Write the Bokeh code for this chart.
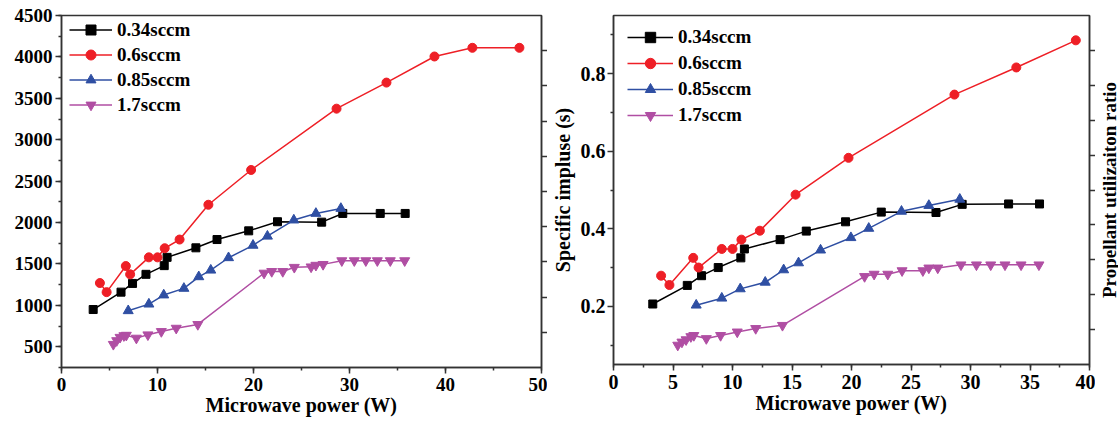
import math
from bokeh.plotting import figure
from bokeh.models import (Range1d, LinearAxis, FixedTicker, SingleIntervalTicker,
                          Legend, LegendItem, CustomJSTickFormatter)
from bokeh.layouts import row
from bokeh.embed import file_html
from bokeh.resources import INLINE

# ---------------- data ----------------
black_power = [3.3, 6.2, 7.4, 8.8, 10.7, 11.0, 14.0, 16.2, 19.5, 22.5, 27.1, 29.3, 33.2, 35.8]
black_isp = [950, 1160, 1265, 1375, 1480, 1580, 1695, 1795, 1900, 2010, 2005, 2110, 2110, 2110]
black_ratio = [0.206, 0.254, 0.279, 0.300, 0.325, 0.348, 0.372, 0.394, 0.418, 0.443, 0.442, 0.463, 0.464, 0.464]

red_power_isp = [4.0, 4.7, 6.7, 7.15, 9.1, 10.0, 10.75, 12.3, 15.3, 19.75, 28.65, 33.85, 38.85, 42.8, 47.7]
red_isp = [1270, 1160, 1475, 1375, 1580, 1580, 1690, 1795, 2215, 2635, 3375, 3690, 4005, 4110, 4110]
red_power_ratio = [4.0, 4.7, 6.7, 7.15, 9.1, 10.0, 10.75, 12.3, 15.3, 19.75, 28.65, 33.85, 38.85]
red_ratio = [0.279, 0.255, 0.325, 0.300, 0.348, 0.348, 0.372, 0.395, 0.488, 0.583, 0.746, 0.816, 0.886]

blue_power = [6.95, 9.1, 10.65, 12.75, 14.3, 15.55, 17.4, 19.95, 21.45, 24.2, 26.5, 29.1]
blue_isp = [935, 1015, 1125, 1205, 1345, 1425, 1575, 1725, 1835, 2030, 2110, 2170]
blue_ratio = [0.203, 0.221, 0.245, 0.262, 0.294, 0.312, 0.345, 0.377, 0.401, 0.445, 0.460, 0.476]

pink_power = [5.4, 5.75, 6.1, 6.5, 6.75, 7.8, 9.0, 10.4, 11.95, 14.2, 21.1, 21.9, 23.05,
              24.25, 26.0, 26.5, 27.25, 29.2, 30.5, 31.7, 32.9, 34.25, 35.75]
pink_isp = [530, 575, 615, 635, 640, 605, 645, 685, 725, 770, 1390, 1410, 1410,
            1460, 1465, 1485, 1495, 1540, 1540, 1540, 1540, 1540, 1540]
pink_ratio = [0.100, 0.108, 0.114, 0.122, 0.125, 0.117, 0.125, 0.134, 0.143, 0.151, 0.277, 0.283, 0.283,
              0.292, 0.292, 0.299, 0.299, 0.307, 0.307, 0.307, 0.307, 0.307, 0.307]

labels = ["0.34sccm", "0.6sccm", "0.85sccm", "1.7sccm"]
x_label = "Microwave power (W)"
isp_label = "Specific impluse (s)"
ratio_label = "Propellant utilizaiton ratio"
ratio_ticks = [0.2, 0.4, 0.6, 0.8]
ratio_minor = [0.1, 0.3, 0.5, 0.7, 0.9]

FONT = "Liberation Serif"
AX = "#333333"
COLORS = ["#000000", "#ee1f26", "#2f4fa3", "#b04ea3"]
MARKERS = ["square", "circle", "triangle", "inverted_triangle"]
SIZES = [8, 9, 10, 10]


def style_axis(ax, size):
    ax.axis_line_color = AX
    ax.axis_line_width = 1.5
    ax.major_tick_line_color = AX
    ax.major_tick_line_width = 1.5
    ax.minor_tick_line_color = AX
    ax.minor_tick_line_width = 1.5
    ax.major_tick_in = 0
    ax.major_tick_out = 6
    ax.minor_tick_in = 0
    ax.minor_tick_out = 3
    ax.major_label_text_font = FONT
    ax.major_label_text_font_style = "bold"
    ax.major_label_text_font_size = size
    ax.major_label_text_color = "black"
    ax.major_label_standoff = 3
    ax.axis_label_text_font = FONT
    ax.axis_label_text_font_style = "bold"
    ax.axis_label_text_font_size = "20px"
    ax.axis_label_text_color = "black"


def make_panel(fw, fh, xr, yr, xint, borders, series, label_size, legend_loc, row_h, glyph_w):
    p = figure(frame_width=fw, frame_height=fh, x_range=Range1d(*xr), y_range=Range1d(*yr),
               output_backend="svg", toolbar_location=None,
               min_border_left=borders[0], min_border_right=borders[1],
               min_border_top=borders[2], min_border_bottom=borders[3])
    p.grid.visible = False
    p.outline_line_color = AX
    p.outline_line_width = 1.5
    p.background_fill_color = "white"
    p.border_fill_color = "white"
    p.xaxis.ticker = SingleIntervalTicker(interval=xint, num_minor_ticks=2)
    style_axis(p.xaxis[0], label_size)
    style_axis(p.yaxis[0], label_size)
    p.xaxis.axis_label = x_label
    p.xaxis.axis_label_standoff = 0
    p.xaxis.major_label_standoff = 4

    p.extra_y_ranges = {"r": Range1d(0, 10)}
    rax = LinearAxis(y_range_name="r", ticker=FixedTicker(ticks=list(range(1, 10)), minor_ticks=[]),
                     formatter=CustomJSTickFormatter(code="return ''"))
    style_axis(rax, label_size)
    rax.major_label_standoff = 0
    p.add_layout(rax, "right")

    items = []
    for (xs, ys), lab, col, mk, sz in zip(series, labels, COLORS, MARKERS, SIZES):
        l = p.line(xs, ys, line_color=col, line_width=1.5)
        m = p.scatter(xs, ys, marker=mk, size=sz, fill_color=col, line_color=col)
        items.append(LegendItem(label=lab, renderers=[l, m]))
    leg = Legend(items=items, location=legend_loc, margin=0, padding=0,
                 spacing=0, glyph_height=row_h, label_height=row_h, glyph_width=glyph_w,
                 label_standoff=5, border_line_color=None, background_fill_alpha=0,
                 label_text_font=FONT, label_text_font_style="bold",
                 label_text_font_size="19px", label_text_color="black")
    p.add_layout(leg)
    return p


p1 = make_panel(480, 352, (0, 50), (250, 4500), 10, (61, 6, 15, 56),
                [(black_power, black_isp), (red_power_isp, red_isp),
                 (blue_power, blue_isp), (pink_power, pink_isp)],
                "19px", (8, 250), 25, 43)
p1.yaxis[0].ticker = SingleIntervalTicker(interval=500, num_minor_ticks=2)

p2 = make_panel(476, 349, (0, 40), (0.05, 0.95), 5, (66, 6, 13, 56),
                [(black_power, black_ratio), (red_power_ratio, red_ratio),
                 (blue_power, blue_ratio), (pink_power, pink_ratio)],
                "20px", (14, 236), 26, 46)
p2.yaxis[0].ticker = FixedTicker(ticks=ratio_ticks, minor_ticks=ratio_minor)
p2.yaxis[0].major_label_standoff = 2
p2.yaxis[0].axis_label = isp_label
p2.yaxis[0].axis_label_standoff = 4

# narrow strip carrying the right-hand axis title (reads bottom to top)
p3 = figure(frame_width=1, frame_height=349, y_range=Range1d(0.05, 0.95), x_range=Range1d(0, 1),
            output_backend="svg", toolbar_location=None,
            min_border_left=20, min_border_right=0, min_border_top=13, min_border_bottom=56)
p3.grid.visible = False
p3.outline_line_color = None
p3.xaxis.visible = False
ya = p3.yaxis[0]
ya.formatter = CustomJSTickFormatter(code="return ''")
ya.axis_line_color = None
ya.major_tick_out = 0
ya.major_tick_in = 0
ya.minor_tick_out = 0
ya.minor_tick_in = 0
ya.major_tick_line_color = None
ya.minor_tick_line_color = None
ya.major_label_standoff = 0
ya.axis_label = ratio_label
ya.axis_label_standoff = 0
ya.axis_label_text_font = FONT
ya.axis_label_text_font_style = "bold"
ya.axis_label_text_font_size = "19px"
ya.axis_label_text_color = "black"
p3.scatter([0.5], [0.5], size=0, alpha=0)

layout = row(p1, p2, p3)
open("out.html", "w").write(file_html(layout, INLINE))
